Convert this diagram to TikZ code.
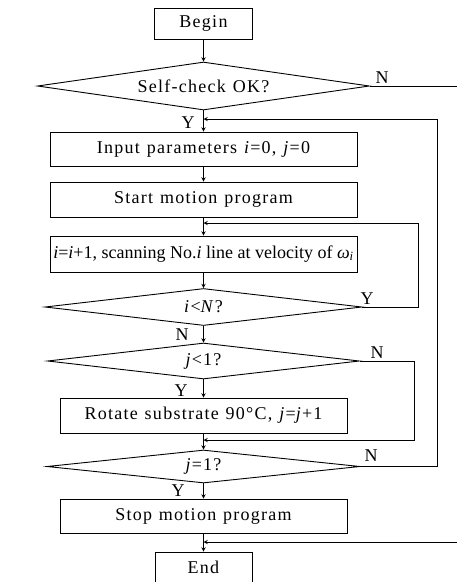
\documentclass[tikz,border=0pt]{standalone}
\usepackage{fontspec}
\setmainfont[LetterSpace=7,WordSpace=1.2]{Liberation Serif}
\newfontfamily\plainserif{Liberation Serif}
\usetikzlibrary{shapes.geometric}

\begin{document}
\begin{tikzpicture}[x=1pt, y=-1pt, font=\fontsize{18}{20}\selectfont,
    box/.style={draw, rectangle, inner sep=0pt, line width=0.9pt},
    decision/.style={draw, diamond, inner sep=0pt, aspect=8, line width=0.9pt},
    flow/.style={->, >=stealth, line width=0.9pt}]
    \useasboundingbox (0,0) rectangle (457,582);
    % blocks
    \node [box, minimum width=98pt, minimum height=31pt] (begin) at (203.5,23.5) {Begin};
    \node [decision, minimum width=332pt, minimum height=48pt] (check) at (203.5,86) {Self-check OK?};
    \node [box, minimum width=307pt, minimum height=34pt] (input) at (203.5,149) {Input parameters \textit{i}=0, \textit{j}=0};
    \node [box, minimum width=307pt, minimum height=35pt] (start) at (203.5,199.5) {Start motion program};
    \node [box, minimum width=307pt, minimum height=36pt, font=\plainserif\fontsize{18}{20}\selectfont] (scan) at (203.5,254) {\textit{i}=\textit{i}+1, scanning No.\textit{i} line at velocity of \textit{ω}\textsubscript{\textit{i}}};
    \node [decision, minimum width=317pt, minimum height=37pt] (iltn) at (203.5,307) {\textit{i}<\textit{N}?};
    \node [decision, minimum width=312pt, minimum height=36pt] (jlto) at (203.5,361) {\textit{j}<1?};
    \node [box, minimum width=287pt, minimum height=35pt] (rotate) at (203.5,415.5) {Rotate substrate 90°C, \textit{j}=\textit{j}+1};
    \node [decision, minimum width=313pt, minimum height=33pt] (jeqo) at (203.5,466.5) {\textit{j}=1?};
    \node [box, minimum width=287pt, minimum height=34pt] (stop) at (203.5,516) {Stop motion program};
    \node [box, minimum width=97pt, minimum height=30pt] (end) at (203.5,567) {End};
    % merge points
    \coordinate (m1) at (203.5,119);
    \coordinate (m2) at (203.5,223);
    \coordinate (m3) at (203.5,440);
    \coordinate (m4) at (203.5,542);
    \coordinate (r1) at (470,542);
    \coordinate (r2) at (418,223);
    \coordinate (r3) at (414,440);
    \coordinate (r4) at (437,119);
    % main line
    \draw [flow] (begin) -- (check);
    \draw [flow] (check) -- (input);
    \draw [flow] (input) -- (start);
    \draw [flow] (start) -- (scan);
    \draw [flow] (scan) -- (iltn);
    \draw [flow] (iltn) -- (jlto);
    \draw [flow] (jlto) -- (rotate);
    \draw [flow] (rotate) -- (jeqo);
    \draw [flow] (jeqo) -- (stop);
    \draw [flow] (stop) -- (end);
    % branches
    \draw [flow] (check.east) -| (r1) -- (m4);
    \draw [flow] (iltn.east) -| (r2) -- (m2);
    \draw [flow] (jlto.east) -| (r3) -- (m3);
    \draw [flow] (jeqo.east) -| (r4) -- (m1);
    % labels
    \node (n1) at (382,78) {N};
    \node (y1) at (188,123) {Y};
    \node (y2) at (367,299) {Y};
    \node (n2) at (182,335) {N};
    \node (n3) at (377,353) {N};
    \node (y3) at (181,391) {Y};
    \node (n4) at (371,456) {N};
    \node (y4) at (178,491) {Y};
\end{tikzpicture}
\end{document}
